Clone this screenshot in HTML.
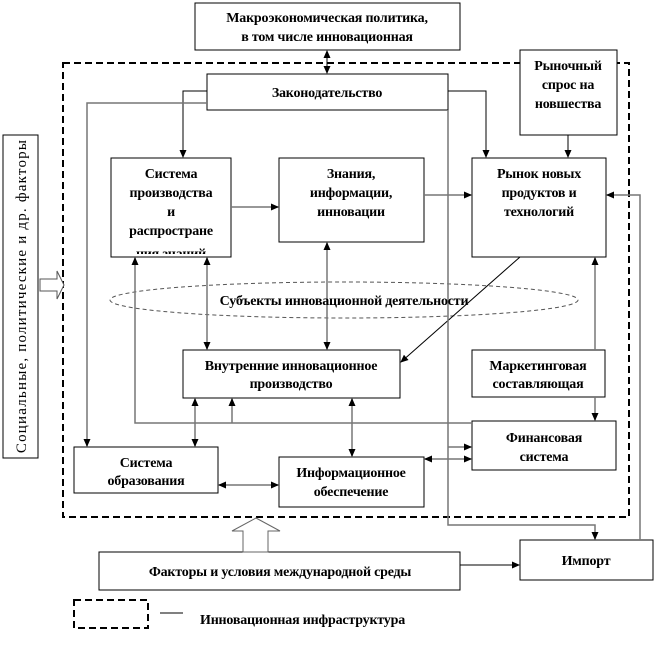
<!DOCTYPE html>
<html><head><meta charset="utf-8"><style>
body{margin:0;background:#fff}
svg text{font-family:"Liberation Serif",serif;font-weight:bold;font-size:14px;fill:#000;letter-spacing:-0.2px}
</style></head><body>
<svg width="654" height="641" viewBox="0 0 654 641" xmlns="http://www.w3.org/2000/svg">
<defs>
<marker id="a" markerWidth="8" markerHeight="8" refX="7" refY="4" orient="auto-start-reverse" markerUnits="userSpaceOnUse"><path d="M0,0.5 L8,4 L0,7.5 z" fill="#000"/></marker>
<clipPath id="c"><rect x="111" y="158" width="120" height="96"/></clipPath>
</defs>
<rect x="63" y="63" width="566" height="454" fill="none" stroke="#000" stroke-width="2" stroke-dasharray="7,4"/>
<g fill="#fff" stroke="#000" stroke-width="1">
<rect x="195" y="3" width="265" height="47"/>
<rect x="520" y="50" width="97" height="85"/>
<rect x="207" y="74" width="241" height="36"/>
<rect x="111" y="158" width="120" height="99"/>
<rect x="279" y="158" width="145" height="84"/>
<rect x="472" y="158" width="134" height="99"/>
<rect x="183" y="350" width="217" height="48"/>
<rect x="472" y="350" width="133" height="47"/>
<rect x="472" y="421" width="144" height="49"/>
<rect x="74" y="447" width="144" height="46"/>
<rect x="279" y="457" width="145" height="50"/>
<rect x="99" y="552" width="361" height="38"/>
<rect x="520" y="540" width="133" height="40"/>
<rect x="3" y="135" width="35" height="323"/>
</g>
<ellipse cx="344" cy="300" rx="234" ry="18" fill="none" stroke="#555" stroke-dasharray="4,3"/>
<g fill="none" stroke="#000" stroke-width="1">
<line x1="327" y1="51" x2="327" y2="73" marker-start="url(#a)" marker-end="url(#a)"/>
<polyline points="207,91 183,91 183,157" marker-end="url(#a)"/>
<polyline points="448,91 486,91 486,157" marker-end="url(#a)"/>
<line x1="568" y1="135" x2="568" y2="157" marker-end="url(#a)"/>
<line x1="460" y1="565" x2="519" y2="565" marker-end="url(#a)"/>
<line x1="520" y1="257" x2="401" y2="362" marker-end="url(#a)"/>
</g>
<g fill="none" stroke="#777" stroke-width="1.5">
<polyline points="207,103 87,103 87,446" marker-end="url(#a)"/>
<polyline points="448,110 448,525 595,525 595,539" marker-end="url(#a)"/>
<line x1="448" y1="447" x2="471" y2="447" marker-end="url(#a)"/>
<line x1="425" y1="459" x2="471" y2="459" marker-start="url(#a)" marker-end="url(#a)"/>
<line x1="231" y1="207" x2="278" y2="207" marker-end="url(#a)"/>
<line x1="424" y1="195" x2="471" y2="195" marker-end="url(#a)"/>
<polyline points="640,540 640,195 607,195" marker-end="url(#a)"/>
<line x1="595" y1="350" x2="595" y2="258" marker-end="url(#a)"/>
<line x1="595" y1="397" x2="595" y2="420" marker-end="url(#a)"/>
<polyline points="472,423 135,423 135,258" marker-end="url(#a)"/>
<line x1="232" y1="423" x2="232" y2="399" marker-end="url(#a)"/>
<line x1="207" y1="258" x2="207" y2="349" marker-start="url(#a)" marker-end="url(#a)"/>
<line x1="327" y1="243" x2="327" y2="349" marker-start="url(#a)" marker-end="url(#a)"/>
<line x1="195" y1="399" x2="195" y2="446" marker-start="url(#a)" marker-end="url(#a)"/>
<line x1="352" y1="399" x2="352" y2="456" marker-start="url(#a)" marker-end="url(#a)"/>
<line x1="219" y1="485" x2="278" y2="485" marker-start="url(#a)" marker-end="url(#a)"/>
</g>
<path d="M243,552 L243,531 L232,531 L256,518 L280,531 L268,531 L268,552 Z" fill="#fff" stroke="#666"/>
<path d="M40,279 L57,279 L57,271 L64,285 L57,299 L57,291 L40,291 Z" fill="#fff" stroke="#555"/>
<rect x="74" y="600" width="74" height="28" fill="none" stroke="#000" stroke-width="2" stroke-dasharray="7,4"/>
<line x1="160" y1="613" x2="183" y2="613" stroke="#000"/>
<g text-anchor="middle">
<text x="327" y="22">Макроэкономическая политика,</text>
<text x="327" y="41">в том числе инновационная</text>
<text x="568" y="70">Рыночный</text>
<text x="568" y="89">спрос на</text>
<text x="568" y="108">новшества</text>
<text x="327" y="97">Законодательство</text>
<text x="171" y="178">Система</text>
<text x="171" y="197">производства</text>
<text x="171" y="216">и</text>
<text x="171" y="235">распростране</text>
<text x="171" y="258" clip-path="url(#c)">ния знаний</text>
<text x="351" y="178">Знания,</text>
<text x="351" y="197">информации,</text>
<text x="351" y="216">инновации</text>
<text x="539" y="178">Рынок новых</text>
<text x="539" y="197">продуктов и</text>
<text x="539" y="216">технологий</text>
<text x="344" y="305">Субъекты инновационной деятельности</text>
<text x="291" y="370">Внутренние инновационное</text>
<text x="291" y="388">производство</text>
<text x="538" y="370">Маркетинговая</text>
<text x="538" y="388">составляющая</text>
<text x="544" y="442">Финансовая</text>
<text x="544" y="461">система</text>
<text x="146" y="467">Система</text>
<text x="146" y="485">образования</text>
<text x="351" y="477">Информационное</text>
<text x="351" y="496">обеспечение</text>
<text x="280" y="576">Факторы и условия международной среды</text>
<text x="586" y="565">Импорт</text>
<text transform="translate(26,296) rotate(-90)" x="0" y="0" style="font-weight:normal;font-size:15px;letter-spacing:1.2px">Социальные, политические и др. факторы</text>
</g>
<text x="200" y="624">Инновационная инфраструктура</text>
</svg>
</body></html>
